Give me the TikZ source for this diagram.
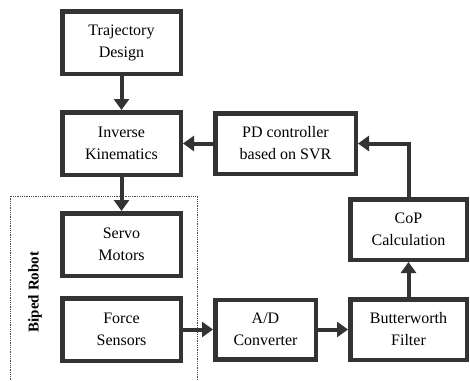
\documentclass[tikz,border=0pt]{standalone}
\usepackage{fontspec}
\setmainfont{Liberation Serif}
\usetikzlibrary{arrows.meta,positioning}

\begin{document}
\begin{tikzpicture}[
  x=1pt, y=-1pt,
  font=\fontsize{16}{22}\selectfont,
  blk/.style={draw=black!80, line width=4.5pt, align=center, inner sep=2pt, minimum width=118.5pt, minimum height=62.5pt},
  arr/.style={-{Triangle[length=11pt,width=15pt]}, line width=4pt, draw=black!80},
  node distance=34pt and 30pt
]
\useasboundingbox (0,0) rectangle (470,380);
\node[blk] (traj) at (121.5,42.5) {Trajectory\\Design};
\node[blk, below=of traj] (invk) {Inverse\\Kinematics};
\node[blk, below=of invk] (servo) {Servo\\Motors};
\node[blk, below=18pt of servo] (force) {Force\\Sensors};
\node[blk, right=of invk, minimum width=140.5pt, minimum height=60.5pt] (pdc) {PD controller\\based on SVR};
\node[blk, right=of force, minimum width=100.5pt, minimum height=59.5pt] (adc) {A/D\\Converter};
\node[blk, right=of adc, minimum width=116.5pt, minimum height=60.5pt] (bwf) {Butterworth\\Filter};
\node[blk, above=35pt of bwf, minimum width=116.5pt, minimum height=60.5pt] (cop) {CoP\\Calculation};
% biped robot frame
\draw[densely dotted, line width=0.8pt, black!70] (10,382) -- (10,196) -- (197,196) -- (197,382);
\node[rotate=90, font=\fontsize{15}{18}\selectfont\bfseries] (robot) at (35,292) {Biped Robot};
\draw[arr] (traj) -- (invk);
\draw[arr] (invk) -- (servo);
\draw[arr] (pdc) -- (invk);
\draw[arr] (cop.north) |- (pdc.east);
\draw[arr] (bwf) -- (cop);
\draw[arr] (force) -- (adc);
\draw[arr] (adc) -- (bwf);
\end{tikzpicture}
\end{document}
